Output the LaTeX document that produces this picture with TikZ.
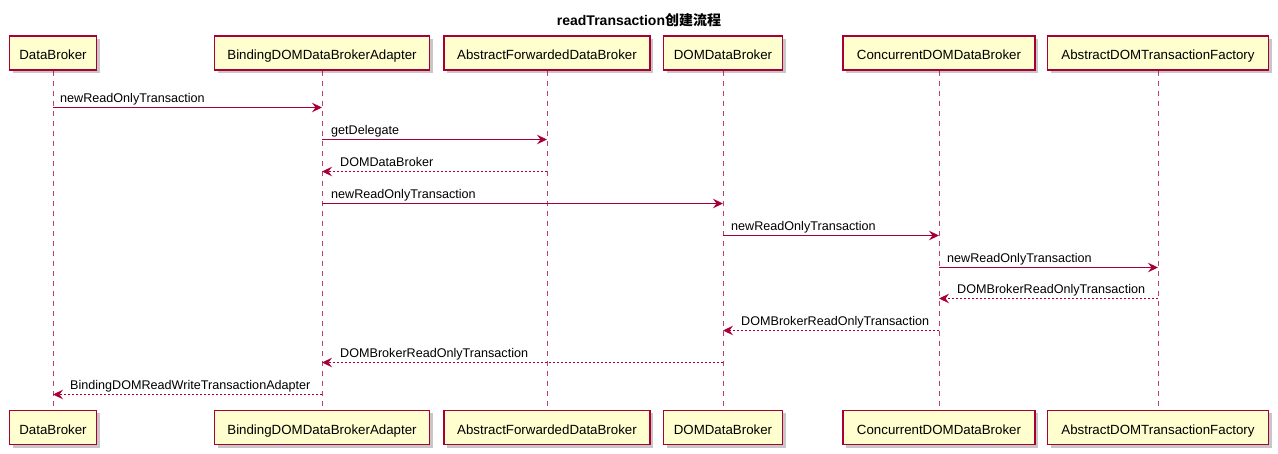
\documentclass[tikz,border=0pt]{standalone}
\usepackage{fontspec}
\setmainfont{Liberation Sans}
\newfontfamily\cjk{Noto Sans CJK SC}
\usetikzlibrary{arrows.meta,shadows}
\definecolor{pbord}{HTML}{A80036}
\definecolor{pfill}{HTML}{FEFECE}
\tikzset{
  part/.style={draw=pbord, fill=pfill, line width=1.3pt, minimum height=34pt, inner sep=0pt,
    text height=14pt, text depth=0pt,
    font=\fontsize{13.3}{15}\selectfont, text=black,
    drop shadow={shadow xshift=3pt, shadow yshift=-3pt, opacity=0.22, fill=black}},
  life/.style={draw=pbord, line width=0.9pt, dash pattern=on 5pt off 5pt, opacity=0.75},
  msg/.style={draw=pbord, line width=1.1pt, -{Stealth[length=10pt,width=9.5pt,inset=3.5pt]}},
  ret/.style={msg, dash pattern=on 2pt off 2pt},
  lbl/.style={font=\fontsize{12.6}{14}\selectfont, inner sep=0pt, anchor=base west, text=black},
}
\begin{document}
\begin{tikzpicture}[x=1pt,y=-1pt]
\useasboundingbox (0,0) rectangle (1278,454);
\node[font=\bfseries\fontsize{14}{16}\selectfont] (title) at (639,20) {readTransaction{\cjk\bfseries 创建流程}};
% participants top
\node[part, minimum width=87pt] (DBt) at (53,53) {DataBroker};
\node[part, minimum width=215pt] (BDt) at (322,53) {BindingDOMDataBrokerAdapter};
\node[part, minimum width=206pt] (AFt) at (547,53) {AbstractForwardedDataBroker};
\node[part, minimum width=119pt] (DMt) at (723,53) {DOMDataBroker};
\node[part, minimum width=192pt] (CDt) at (939,53) {ConcurrentDOMDataBroker};
\node[part, minimum width=221pt] (ATt) at (1158,53) {AbstractDOMTransactionFactory};
% participants bottom
\node[part, minimum width=87pt] (DBb) at (53,427.5) {DataBroker};
\node[part, minimum width=215pt] (BDb) at (322,427.5) {BindingDOMDataBrokerAdapter};
\node[part, minimum width=206pt] (AFb) at (547,427.5) {AbstractForwardedDataBroker};
\node[part, minimum width=119pt] (DMb) at (723,427.5) {DOMDataBroker};
\node[part, minimum width=192pt] (CDb) at (939,427.5) {ConcurrentDOMDataBroker};
\node[part, minimum width=221pt] (ATb) at (1158,427.5) {AbstractDOMTransactionFactory};
% lifelines
\foreach \p in {DB,BD,AF,DM,CD,AT}{
  \draw[life] (\p t.south) -- (\p b.north);
}
% message levels
\foreach \i/\y in {1/107.5,2/139.5,3/171.5,4/203.5,5/235.5,6/267.5,7/298.5,8/330.5,9/362.5,10/394.5}{
  \coordinate (y\i) at (0,\y);
}
\draw[msg] (DBt |- y1) -- (BDt |- y1);
\node[lbl] (l1) at ([xshift=7pt,yshift=5pt]DBt |- y1) {newReadOnlyTransaction};
\draw[msg] (BDt |- y2) -- (AFt |- y2);
\node[lbl] (l2) at ([xshift=9pt,yshift=5pt]BDt |- y2) {getDelegate};
\draw[ret] (AFt |- y3) -- (BDt |- y3);
\node[lbl] (l3) at ([xshift=18pt,yshift=5pt]BDt |- y3) {DOMDataBroker};
\draw[msg] (BDt |- y4) -- (DMt |- y4);
\node[lbl] (l4) at ([xshift=9pt,yshift=5pt]BDt |- y4) {newReadOnlyTransaction};
\draw[msg] (DMt |- y5) -- (CDt |- y5);
\node[lbl] (l5) at ([xshift=8pt,yshift=5pt]DMt |- y5) {newReadOnlyTransaction};
\draw[msg] (CDt |- y6) -- (ATt |- y6);
\node[lbl] (l6) at ([xshift=8pt,yshift=5pt]CDt |- y6) {newReadOnlyTransaction};
\draw[ret] (ATt |- y7) -- (CDt |- y7);
\node[lbl] (l7) at ([xshift=18pt,yshift=5pt]CDt |- y7) {DOMBrokerReadOnlyTransaction};
\draw[ret] (CDt |- y8) -- (DMt |- y8);
\node[lbl] (l8) at ([xshift=18pt,yshift=5pt]DMt |- y8) {DOMBrokerReadOnlyTransaction};
\draw[ret] (DMt |- y9) -- (BDt |- y9);
\node[lbl] (l9) at ([xshift=18pt,yshift=5pt]BDt |- y9) {DOMBrokerReadOnlyTransaction};
\draw[ret] (BDt |- y10) -- (DBt |- y10);
\node[lbl] (l10) at ([xshift=17pt,yshift=5pt]DBt |- y10) {BindingDOMReadWriteTransactionAdapter};
\end{tikzpicture}
\end{document}
